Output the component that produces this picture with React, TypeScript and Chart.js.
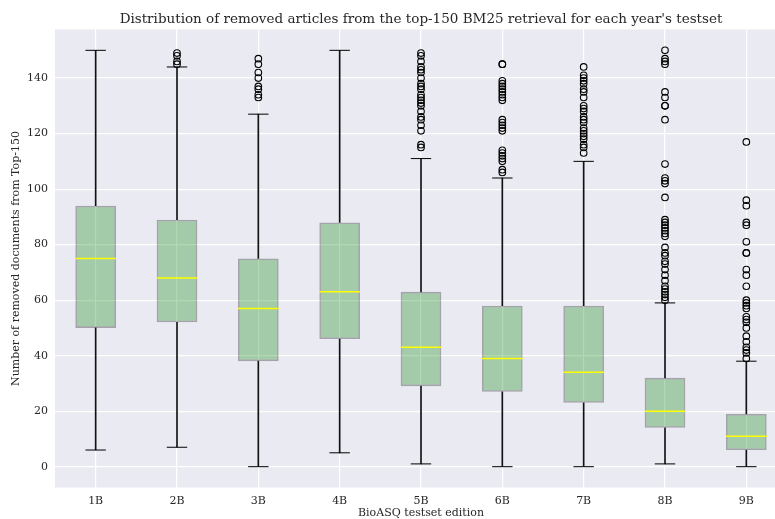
import React, { useEffect, useRef } from 'react';
import { Chart, registerables } from 'chart.js';

Chart.register(...registerables);

const categories = ['1B', '2B', '3B', '4B', '5B', '6B', '7B', '8B', '9B'];
const whiskerLow = [6, 7, 0, 5, 1, 0, 0, 1, 0];
const q1 = [50, 52, 38, 46, 29, 27, 23, 14, 6];
const median = [75, 68, 57, 63, 43, 39, 34, 20, 11];
const q3 = [94, 89, 75, 88, 63, 58, 58, 32, 19];
const whiskerHigh = [150, 144, 127, 150, 111, 104, 110, 59, 38];

const outliers1B: number[] = [];
const outliers2B = [149, 148, 146, 145];
const outliers3B = [147, 145, 142, 140, 137, 136, 134, 133];
const outliers4B: number[] = [];
const outliers5B = [149, 148, 146, 144, 143, 142, 140, 138, 137, 136, 134, 133, 132, 131, 130, 128, 126, 125, 123, 121, 116, 115];
const outliers6B = [145, 145, 139, 138, 137, 136, 135, 134, 133, 132, 125, 124, 123, 122, 121, 114, 113, 112, 111, 110, 107, 106];
const outliers7B = [144, 141, 140, 139, 138, 136, 135, 133, 130, 129, 128, 126, 125, 124, 122, 121, 120, 119, 118, 116, 115, 113];
const outliers8B = [150, 147, 146, 145, 135, 133, 130, 130, 125, 109, 104, 103, 102, 97, 89, 88, 87, 86, 85, 84, 83, 79, 77, 76, 74, 73, 71, 69, 67, 65, 64, 63, 62, 61, 60];
const outliers9B = [117, 96, 94, 88, 87, 81, 77, 77, 71, 69, 65, 60, 59, 58, 57, 54, 53, 52, 50, 47, 45, 43, 42, 41, 39];
const outlierSets = [outliers1B, outliers2B, outliers3B, outliers4B, outliers5B, outliers6B, outliers7B, outliers8B, outliers9B];

const yTicks = [0, 20, 40, 60, 80, 100, 120, 140];

const titleText = "Distribution of removed articles from the top-150 BM25 retrieval for each year's testset";
const xTitle = 'BioASQ testset edition';
const yTitle = 'Number of removed documents from Top-150';

const FONT = "'DejaVu Serif', 'Liberation Serif', serif";
const TEXT = '#262626';

const bgPlugin = {
  id: 'plotBg',
  beforeDraw(chart: any) {
    const { ctx, chartArea } = chart;
    if (!chartArea) return;
    ctx.save();
    ctx.fillStyle = '#EAEAF2';
    ctx.fillRect(chartArea.left, chartArea.top, chartArea.right - chartArea.left, chartArea.bottom - chartArea.top);
    ctx.restore();
  },
};

export default function App() {
  const ref = useRef<HTMLCanvasElement | null>(null);

  useEffect(() => {
    if (!ref.current) return;
    const outlierPoints: { x: string; y: number }[] = [];
    outlierSets.forEach((arr, i) => arr.forEach((v) => outlierPoints.push({ x: categories[i], y: v })));

    const chart = new Chart(ref.current, {
      type: 'bar',
      data: {
        labels: categories,
        datasets: [
          {
            type: 'line',
            label: 'outliers',
            data: outlierPoints as any,
            showLine: false,
            pointRadius: 3.3,
            pointBorderWidth: 1.1,
            pointBorderColor: '#000',
            pointBackgroundColor: 'rgba(0,0,0,0)',
            order: 0,
          } as any,
          {
            type: 'line',
            label: 'median',
            data: median,
            showLine: false,
            pointStyle: 'line',
            pointRadius: 20.3,
            pointBorderWidth: 1.5,
            pointBorderColor: '#ffff00',
            order: 1,
          } as any,
          {
            type: 'line',
            label: 'capLow',
            data: whiskerLow,
            showLine: false,
            pointStyle: 'line',
            pointRadius: 10.2,
            pointBorderWidth: 1,
            pointBorderColor: '#000',
            order: 2,
          } as any,
          {
            type: 'line',
            label: 'capHigh',
            data: whiskerHigh,
            showLine: false,
            pointStyle: 'line',
            pointRadius: 10.2,
            pointBorderWidth: 1,
            pointBorderColor: '#000',
            order: 2,
          } as any,
          {
            type: 'bar',
            label: 'box',
            data: categories.map((_, i) => [q1[i], q3[i]]),
            backgroundColor: 'rgba(0,128,0,0.3)',
            borderColor: 'rgba(0,0,0,0.3)',
            borderWidth: 1.6,
            borderSkipped: false,
            barPercentage: 0.5,
            categoryPercentage: 1,
            grouped: false,
            order: 3,
          } as any,
          {
            type: 'bar',
            label: 'whiskerLow',
            data: categories.map((_, i) => [whiskerLow[i], q1[i]]),
            backgroundColor: '#111',
            barThickness: 1,
            grouped: false,
            order: 4,
          } as any,
          {
            type: 'bar',
            label: 'whiskerHigh',
            data: categories.map((_, i) => [q3[i], whiskerHigh[i]]),
            backgroundColor: '#111',
            barThickness: 1,
            grouped: false,
            order: 4,
          } as any,
        ],
      },
      options: {
        animation: false,
        responsive: false,
        maintainAspectRatio: false,
        events: [],
        layout: { autoPadding: false, padding: { left: 0, right: 13, top: 0, bottom: 0 } },
        plugins: {
          legend: { display: false },
          tooltip: { enabled: false },
          title: {
            display: true,
            text: titleText,
            fullSize: false,
            color: TEXT,
            font: { family: FONT, size: 13.5, weight: 'normal', lineHeight: 1.2 },
            padding: { top: 11, bottom: 2.3 },
          },
        },
        scales: {
          x: {
            type: 'category',
            offset: true,
            grid: { color: '#ffffff', lineWidth: 1.2, offset: false, drawTicks: false },
            border: { display: false },
            ticks: { color: TEXT, font: { family: FONT, size: 11 }, padding: 7, maxRotation: 0 },
            title: {
              display: true,
              text: xTitle,
              color: TEXT,
              font: { family: FONT, size: 11, lineHeight: 1.1 },
              padding: { top: 0, bottom: 0 },
            },
            afterFit: (s: any) => {
              s.height = 31.5;
            },
          },
          y: {
            type: 'linear',
            min: -7.5,
            max: 157.5,
            afterBuildTicks: (s: any) => {
              s.ticks = yTicks.map((v) => ({ value: v }));
            },
            grid: { color: '#ffffff', lineWidth: 1.2, drawTicks: false },
            border: { display: false },
            ticks: { color: TEXT, font: { family: FONT, size: 11 }, padding: 7 },
            title: {
              display: true,
              text: yTitle,
              color: TEXT,
              font: { family: FONT, size: 11, lineHeight: 1.2 },
              padding: { top: 10, bottom: 0 },
            },
            afterFit: (s: any) => {
              s.width = 55;
            },
          },
        },
      } as any,
      plugins: [bgPlugin],
    });
    return () => chart.destroy();
  }, []);

  return (
    <div style={{ position: 'fixed', left: 0, top: 0, width: 775, height: 519, overflow: 'hidden', background: '#fff' }}>
      <canvas ref={ref} width={800} height={519} style={{ display: 'block' }} />
    </div>
  );
}
